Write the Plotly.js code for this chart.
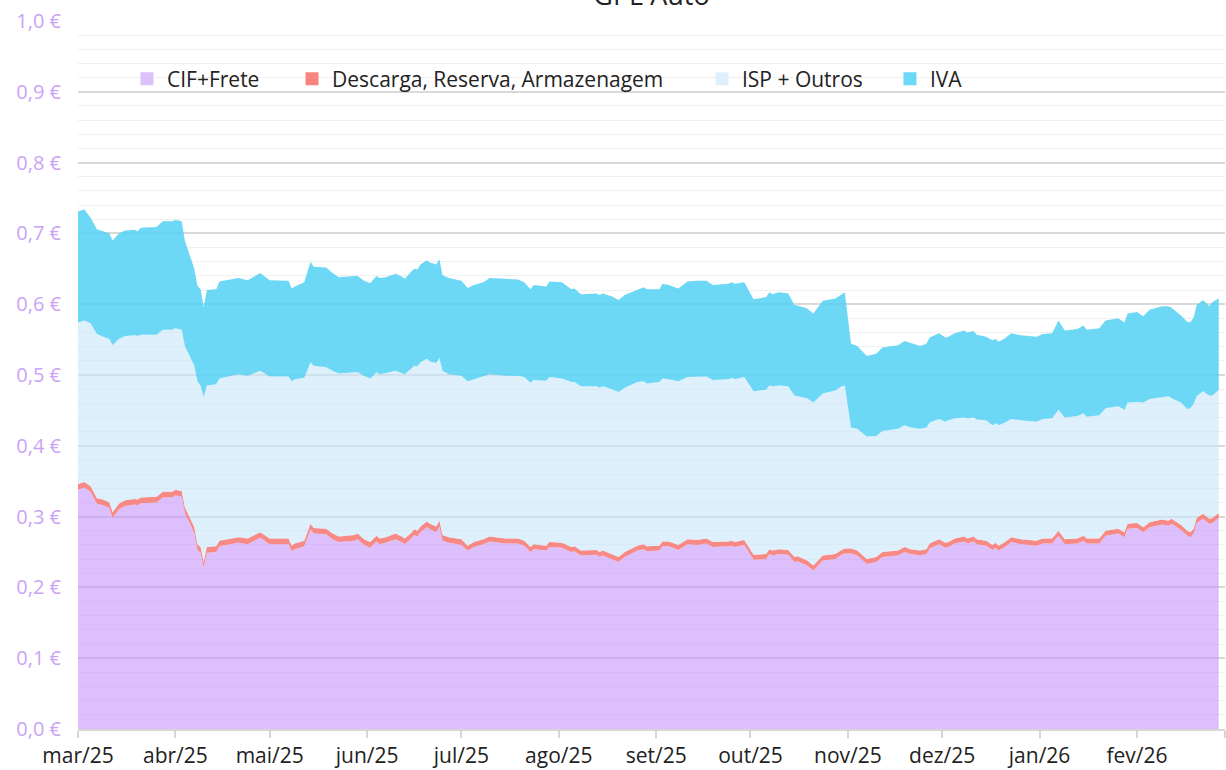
<!DOCTYPE html>
<html>
<head>
<meta charset="utf-8">
<script src="https://cdn.plot.ly/plotly-3.0.1.min.js"></script>
<style>html,body{margin:0;padding:0;background:#fff;}#chart{width:1226px;height:770px;}</style>
</head>
<body>
<div id="chart"></div>
<script>
const dates = ['2025-03-01','2025-03-03','2025-03-05','2025-03-07','2025-03-09','2025-03-11','2025-03-12','2025-03-14','2025-03-16','2025-03-19','2025-03-20','2025-03-21','2025-03-26','2025-03-28','2025-03-31',
'2025-04-01','2025-04-03','2025-04-04','2025-04-07','2025-04-08','2025-04-09','2025-04-10','2025-04-11','2025-04-14','2025-04-15','2025-04-17','2025-04-21','2025-04-24','2025-04-28',
'2025-05-01','2025-05-07','2025-05-08','2025-05-09','2025-05-12','2025-05-14','2025-05-15','2025-05-19','2025-05-21','2025-05-23','2025-05-28','2025-05-29','2025-05-31',
'2025-06-02','2025-06-04','2025-06-05','2025-06-07','2025-06-10','2025-06-12','2025-06-13','2025-06-15','2025-06-16','2025-06-17','2025-06-18','2025-06-20','2025-06-21','2025-06-23','2025-06-24','2025-06-25','2025-06-27',
'2025-07-01','2025-07-03','2025-07-05','2025-07-08','2025-07-10','2025-07-15','2025-07-19','2025-07-21','2025-07-23','2025-07-24','2025-07-28','2025-07-29',
'2025-08-02','2025-08-05','2025-08-06','2025-08-08','2025-08-13','2025-08-14','2025-08-15','2025-08-18','2025-08-20','2025-08-22','2025-08-26','2025-08-28','2025-08-29',
'2025-09-02','2025-09-03','2025-09-05','2025-09-08','2025-09-11','2025-09-14','2025-09-17','2025-09-19','2025-09-24','2025-09-25','2025-09-26','2025-09-29',
'2025-10-02','2025-10-06','2025-10-07','2025-10-08','2025-10-10','2025-10-13','2025-10-15','2025-10-16','2025-10-19','2025-10-21','2025-10-24','2025-10-28','2025-10-30','2025-10-31',
'2025-11-02','2025-11-04','2025-11-07','2025-11-10','2025-11-12','2025-11-17','2025-11-19','2025-11-21','2025-11-24','2025-11-26','2025-11-27','2025-11-30',
'2025-12-02','2025-12-03','2025-12-05','2025-12-08','2025-12-09','2025-12-11','2025-12-12','2025-12-15','2025-12-17','2025-12-18','2025-12-19','2025-12-21','2025-12-23','2025-12-26','2025-12-31',
'2026-01-02','2026-01-05','2026-01-07','2026-01-09','2026-01-13','2026-01-15','2026-01-16','2026-01-20','2026-01-22','2026-01-26','2026-01-28','2026-01-29',
'2026-02-01','2026-02-03','2026-02-05','2026-02-09','2026-02-11','2026-02-12','2026-02-15','2026-02-17','2026-02-18','2026-02-19','2026-02-20','2026-02-22','2026-02-24','2026-02-25','2026-02-27'];

const cifFrete = [0.338,0.341,0.335,0.318,0.316,0.312,0.298,0.310,0.315,0.317,0.316,0.319,0.320,0.327,0.327,
0.330,0.328,0.305,0.277,0.253,0.249,0.228,0.249,0.250,0.258,0.260,0.263,0.261,0.270,
0.261,0.261,0.251,0.254,0.258,0.282,0.276,0.275,0.268,0.264,0.266,0.268,0.260,
0.256,0.265,0.261,0.263,0.268,0.264,0.261,0.269,0.274,0.272,0.278,0.285,0.282,0.278,0.286,0.266,0.263,
0.260,0.252,0.257,0.261,0.265,0.262,0.262,0.259,0.250,0.254,0.252,0.257,
0.256,0.250,0.251,0.245,0.246,0.243,0.245,0.240,0.236,0.243,0.252,0.254,0.251,
0.252,0.258,0.258,0.253,0.261,0.260,0.262,0.257,0.258,0.259,0.257,0.260,
0.239,0.240,0.247,0.245,0.247,0.246,0.236,0.237,0.231,0.224,0.238,0.240,0.246,0.248,
0.248,0.245,0.233,0.236,0.243,0.245,0.250,0.247,0.245,0.247,0.255,0.261,
0.256,0.257,0.262,0.265,0.262,0.265,0.261,0.259,0.253,0.256,0.252,0.257,0.264,0.261,0.259,
0.262,0.262,0.273,0.261,0.262,0.266,0.262,0.262,0.273,0.276,0.271,0.283,
0.284,0.278,0.285,0.289,0.287,0.290,0.281,0.273,0.271,0.276,0.291,0.297,0.290,0.291,0.298];

const descarga = [0.008,0.008,0.008,0.008,0.008,0.008,0.008,0.008,0.008,0.008,0.008,0.008,0.008,0.008,0.008,
0.008,0.008,0.008,0.008,0.008,0.008,0.008,0.008,0.008,0.008,0.008,0.008,0.008,0.008,
0.008,0.008,0.008,0.008,0.008,0.008,0.008,0.008,0.008,0.008,0.008,0.008,0.008,
0.008,0.008,0.008,0.008,0.008,0.008,0.008,0.008,0.008,0.008,0.008,0.008,0.008,0.008,0.008,0.008,0.008,
0.008,0.007,0.007,0.007,0.007,0.007,0.007,0.007,0.007,0.007,0.007,0.007,
0.007,0.007,0.007,0.007,0.007,0.007,0.007,0.007,0.007,0.007,0.007,0.007,0.007,
0.007,0.007,0.007,0.007,0.007,0.007,0.007,0.007,0.007,0.007,0.007,0.007,
0.007,0.007,0.007,0.007,0.007,0.007,0.007,0.007,0.007,0.007,0.007,0.007,0.007,0.007,
0.007,0.007,0.007,0.007,0.007,0.007,0.007,0.007,0.007,0.007,0.007,0.007,
0.007,0.007,0.007,0.007,0.007,0.007,0.007,0.007,0.007,0.007,0.007,0.007,0.007,0.007,0.007,
0.007,0.007,0.007,0.007,0.007,0.007,0.007,0.007,0.007,0.007,0.007,0.007,
0.007,0.007,0.007,0.007,0.007,0.007,0.007,0.007,0.007,0.007,0.007,0.007,0.007,0.007,0.007];

const ispOutros = [0.228,0.228,0.230,0.232,0.230,0.231,0.236,0.233,0.232,0.231,0.231,0.230,0.229,0.229,0.229,
0.228,0.228,0.228,0.228,0.230,0.228,0.233,0.228,0.229,0.229,0.229,0.230,0.230,0.228,
0.229,0.229,0.232,0.232,0.230,0.228,0.229,0.228,0.230,0.230,0.230,0.228,0.231,
0.231,0.231,0.232,0.232,0.230,0.231,0.232,0.232,0.231,0.232,0.232,0.230,0.229,0.231,0.230,0.232,0.230,
0.231,0.232,0.230,0.230,0.229,0.230,0.230,0.231,0.232,0.232,0.233,0.233,
0.232,0.233,0.232,0.232,0.231,0.232,0.232,0.233,0.233,0.232,0.231,0.230,0.230,
0.231,0.230,0.229,0.231,0.229,0.230,0.229,0.229,0.229,0.230,0.230,0.230,
0.231,0.232,0.231,0.232,0.231,0.231,0.228,0.226,0.229,0.230,0.229,0.231,0.231,0.230,
0.171,0.172,0.173,0.171,0.171,0.172,0.172,0.172,0.172,0.172,0.171,0.170,
0.171,0.172,0.170,0.168,0.170,0.168,0.169,0.170,0.169,0.169,0.170,0.169,0.167,0.168,0.168,
0.169,0.170,0.171,0.172,0.173,0.173,0.172,0.174,0.173,0.173,0.173,0.171,
0.171,0.176,0.174,0.173,0.176,0.170,0.173,0.172,0.175,0.176,0.172,0.173,0.174,0.173,0.174];

const iva = [0.157,0.157,0.149,0.148,0.149,0.149,0.148,0.149,0.149,0.149,0.148,0.151,0.152,0.153,0.153,
0.153,0.153,0.149,0.137,0.135,0.136,0.127,0.135,0.134,0.137,0.137,0.136,0.135,0.138,
0.136,0.135,0.131,0.131,0.135,0.142,0.140,0.141,0.138,0.136,0.136,0.136,0.134,
0.135,0.136,0.136,0.135,0.137,0.136,0.135,0.137,0.137,0.137,0.138,0.139,0.140,0.139,0.140,0.135,0.136,
0.134,0.132,0.133,0.133,0.136,0.137,0.136,0.134,0.132,0.134,0.133,0.135,
0.136,0.131,0.132,0.130,0.131,0.131,0.131,0.131,0.130,0.131,0.131,0.133,0.133,
0.131,0.134,0.133,0.131,0.135,0.136,0.135,0.134,0.135,0.135,0.135,0.134,
0.130,0.131,0.132,0.130,0.132,0.131,0.128,0.128,0.127,0.126,0.131,0.130,0.130,0.132,
0.118,0.117,0.114,0.116,0.118,0.118,0.119,0.119,0.117,0.118,0.120,0.121,
0.119,0.118,0.120,0.123,0.121,0.122,0.120,0.118,0.120,0.119,0.118,0.119,0.121,0.120,0.120,
0.120,0.120,0.126,0.123,0.123,0.124,0.123,0.123,0.124,0.124,0.123,0.126,
0.127,0.122,0.126,0.128,0.127,0.128,0.123,0.123,0.122,0.122,0.129,0.129,0.126,0.132,0.129];

const seriesNames = ['CIF+Frete','Descarga, Reserva, Armazenagem','ISP + Outros','IVA'];
const monthTicks = ['2025-03-01','2025-04-01','2025-05-01','2025-06-01','2025-07-01','2025-08-01','2025-09-01','2025-10-01','2025-11-01','2025-12-01','2026-01-01','2026-02-01','2026-03-01'];
const monthLabels = ['mar/25','abr/25','mai/25','jun/25','jul/25','ago/25','set/25','out/25','nov/25','dez/25','jan/26','fev/26',''];
const chartTitle = 'GPL Auto';

const FONT = 'Open Sans, Lato, sans-serif';
const fills = ['rgba(196,148,250,0.6)','rgba(247,122,117,0.88)','rgba(202,230,252,0.6)','rgba(82,209,243,0.85)'];
const legendColors = ['#dcc2fb','#f8847f','#dff0fc','#6dd8f5'];
const values = [cifFrete, descarga, ispOutros, iva];
const legendIds = ['legend','legend2','legend3','legend4'];

const traces = [];
values.forEach((v, i) => {
  traces.push({
    type: 'scatter', mode: 'lines', x: dates, y: v, name: seriesNames[i],
    stackgroup: 'one', line: {width: 0, shape: 'linear'}, fillcolor: fills[i],
    showlegend: false, hoverinfo: 'x+y+name'
  });
});
seriesNames.forEach((n, i) => {
  traces.push({
    type: 'scatter', mode: 'markers', x: [null], y: [null], name: n,
    marker: {symbol: 'square', size: 13, color: legendColors[i]},
    legend: legendIds[i], showlegend: true, hoverinfo: 'skip'
  });
});

const legendX = [0.0427, 0.1866, 0.5440, 0.7079];
function legendCfg(x) {
  return {x: x, y: 0.918, xanchor: 'left', yanchor: 'middle', orientation: 'h',
    bgcolor: 'rgba(0,0,0,0)', borderwidth: 0, itemwidth: 30,
    font: {family: FONT, size: 21, color: '#222'}};
}

const layout = {
  width: 1226, height: 770,
  margin: {l: 78, r: 1, t: 21, b: 41},
  paper_bgcolor: '#ffffff', plot_bgcolor: '#ffffff',
  separators: ',.',
  title: {text: chartTitle, x: 0.5, xref: 'paper', y: 0.993, yref: 'container', yanchor: 'bottom',
    font: {family: FONT, size: 27, color: '#222'}},
  xaxis: {
    type: 'date', range: ['2025-03-01', '2026-03-01'],
    tickvals: monthTicks, ticktext: monthLabels,
    showgrid: false, zeroline: false,
    showline: true, linecolor: '#d6d6d6', linewidth: 2,
    ticks: 'outside', ticklen: 7, tickwidth: 2, tickcolor: '#d6d6d6',
    ticklabelstandoff: 0,
    tickfont: {family: FONT, size: 21, color: '#222'}
  },
  yaxis: {
    range: [0, 1], dtick: 0.1, tickformat: '.1f', ticksuffix: ' €',
    showgrid: true, gridcolor: '#d9d9d9', gridwidth: 1.5,
    zeroline: false, showline: false, ticks: '',
    ticklabelstandoff: 16,
    tickfont: {family: FONT, size: 20, color: '#cba3f6'},
    minor: {dtick: 0.02, showgrid: true, gridcolor: '#f0f0f0', gridwidth: 1.2}
  },
  shapes: [{
    type: 'rect', layer: 'between', xref: 'paper', yref: 'y',
    x0: 0.0453, x1: 0.782, y0: 0.905, y1: 0.932,
    fillcolor: '#ffffff', line: {width: 0}
  }],
  showlegend: true,
  legend: legendCfg(legendX[0]),
  legend2: legendCfg(legendX[1]),
  legend3: legendCfg(legendX[2]),
  legend4: legendCfg(legendX[3]),
  hovermode: 'x unified'
};

Plotly.newPlot('chart', traces, layout, {displayModeBar: false, responsive: false});
</script>
</body>
</html>
